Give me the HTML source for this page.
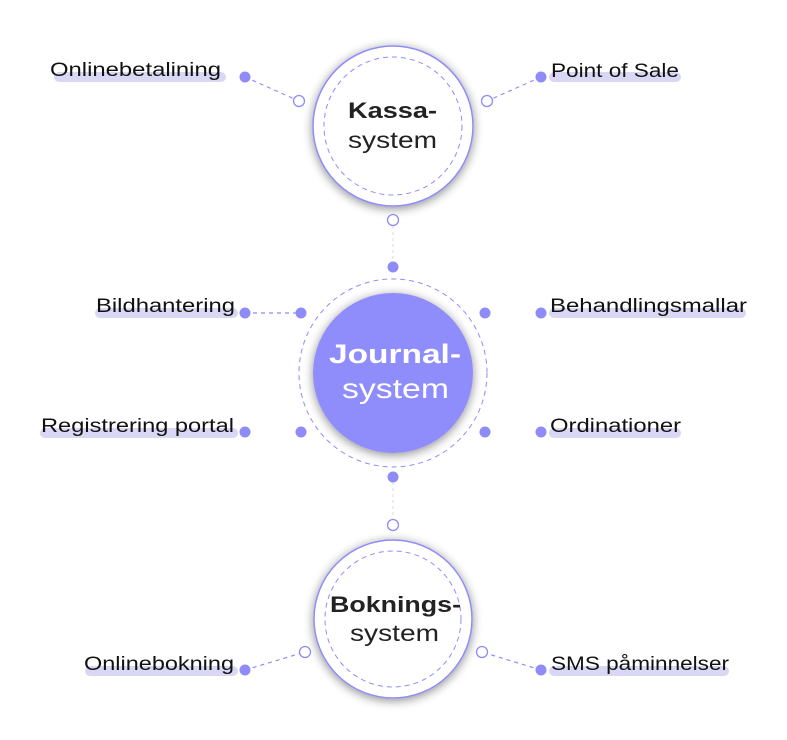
<!DOCTYPE html>
<html><head><style>
body{margin:0;background:#fff;}
svg{display:block;font-family:"Liberation Sans",sans-serif;}
</style></head><body>
<svg width="787" height="740" viewBox="0 0 787 740">
<defs>
<filter id="sh" x="-30%" y="-30%" width="160%" height="160%"><feGaussianBlur in="SourceAlpha" stdDeviation="5"/><feOffset dx="0" dy="2"/><feComponentTransfer><feFuncA type="linear" slope="0.45"/></feComponentTransfer><feMerge><feMergeNode/><feMergeNode in="SourceGraphic"/></feMerge></filter>
</defs>
<g stroke="#8f8cf8" stroke-width="1.2" stroke-dasharray="4 4" fill="none">
<line x1="245" y1="77" x2="299" y2="101"/>
<line x1="541" y1="77" x2="487" y2="101"/>
<line x1="245" y1="313" x2="301" y2="313"/>
<line x1="245" y1="670" x2="305" y2="652"/>
<line x1="541" y1="670" x2="482" y2="652"/>
</g>
<g stroke="#d8d8ee" stroke-width="1" stroke-dasharray="3 3">
<line x1="393" y1="226" x2="393" y2="262"/>
<line x1="393" y1="482" x2="393" y2="519"/>
</g>
<g fill="#d9d7f4">
<rect x="54" y="72" width="172" height="10" rx="5"/>
<rect x="549" y="72" width="132" height="10" rx="5"/>
<rect x="95" y="308" width="143" height="10" rx="5"/>
<rect x="549" y="308" width="197" height="10" rx="5"/>
<rect x="40" y="428" width="198" height="10" rx="5"/>
<rect x="549" y="428" width="132" height="10" rx="5"/>
<rect x="85" y="666" width="153" height="10" rx="5"/>
<rect x="549" y="666" width="180" height="10" rx="5"/>
</g>
<g font-size="19" fill="#111" lengthAdjust="spacingAndGlyphs">
<text x="50" y="76" textLength="171" lengthAdjust="spacingAndGlyphs">Onlinebetalining</text>
<text x="551" y="77" textLength="128" lengthAdjust="spacingAndGlyphs">Point of Sale</text>
<text x="96" y="312" textLength="139" lengthAdjust="spacingAndGlyphs">Bildhantering</text>
<text x="550" y="312" textLength="197" lengthAdjust="spacingAndGlyphs">Behandlingsmallar</text>
<text x="41" y="432" textLength="193" lengthAdjust="spacingAndGlyphs">Registrering portal</text>
<text x="550" y="432" textLength="131" lengthAdjust="spacingAndGlyphs">Ordinationer</text>
<text x="84" y="670" textLength="150" lengthAdjust="spacingAndGlyphs">Onlinebokning</text>
<text x="551" y="670" textLength="178" lengthAdjust="spacingAndGlyphs">SMS påminnelser</text>
</g>
<circle cx="393" cy="126" r="80" fill="#fff" stroke="#8f8cf8" stroke-width="1.5" filter="url(#sh)"/>
<circle cx="393" cy="126" r="69" fill="none" stroke="#8f8cf8" stroke-width="1" stroke-dasharray="5 4"/>
<text x="348" y="118" textLength="89" lengthAdjust="spacingAndGlyphs" font-size="22" font-weight="bold" fill="#222">Kassa-</text>
<text x="348" y="148" textLength="89" lengthAdjust="spacingAndGlyphs" font-size="23" fill="#222">system</text>
<circle cx="393" cy="373" r="94" fill="none" stroke="#8f8cf8" stroke-width="1" stroke-dasharray="5 4"/>
<circle cx="393" cy="373" r="80" fill="#8f8cfb" filter="url(#sh)"/>
<text x="329" y="363" textLength="132" lengthAdjust="spacingAndGlyphs" font-size="27" font-weight="bold" fill="#fff">Journal-</text>
<text x="342" y="398" textLength="107" lengthAdjust="spacingAndGlyphs" font-size="28" fill="#fff">system</text>
<circle cx="393" cy="619" r="79" fill="#fff" stroke="#8f8cf8" stroke-width="1.5" filter="url(#sh)"/>
<circle cx="393" cy="619" r="68" fill="none" stroke="#8f8cf8" stroke-width="1" stroke-dasharray="5 4"/>
<text x="330" y="612" textLength="131" lengthAdjust="spacingAndGlyphs" font-size="22" font-weight="bold" fill="#222">Boknings-</text>
<text x="350" y="641" textLength="89" lengthAdjust="spacingAndGlyphs" font-size="23" fill="#222">system</text>
<g fill="#8f8cf8">
<circle cx="245" cy="77" r="5.5"/><circle cx="541" cy="77" r="5.5"/>
<circle cx="245" cy="313" r="5.5"/><circle cx="541" cy="313" r="5.5"/>
<circle cx="245" cy="432" r="5.5"/><circle cx="541" cy="432" r="5.5"/>
<circle cx="245" cy="670" r="5.5"/><circle cx="541" cy="670" r="5.5"/>
<circle cx="301" cy="313" r="5.5"/><circle cx="485" cy="313" r="5.5"/>
<circle cx="301" cy="432" r="5.5"/><circle cx="485" cy="432" r="5.5"/>
<circle cx="393" cy="267" r="5.5"/><circle cx="393" cy="477" r="5.5"/>
</g>
<g fill="#fff" stroke="#8f8cf8" stroke-width="1.3">
<circle cx="299" cy="101" r="5.5"/><circle cx="487" cy="101" r="5.5"/>
<circle cx="393" cy="220" r="5.5"/><circle cx="393" cy="525" r="5.5"/>
<circle cx="305" cy="652" r="5.5"/><circle cx="482" cy="652" r="5.5"/>
</g>
</svg>
</body></html>
